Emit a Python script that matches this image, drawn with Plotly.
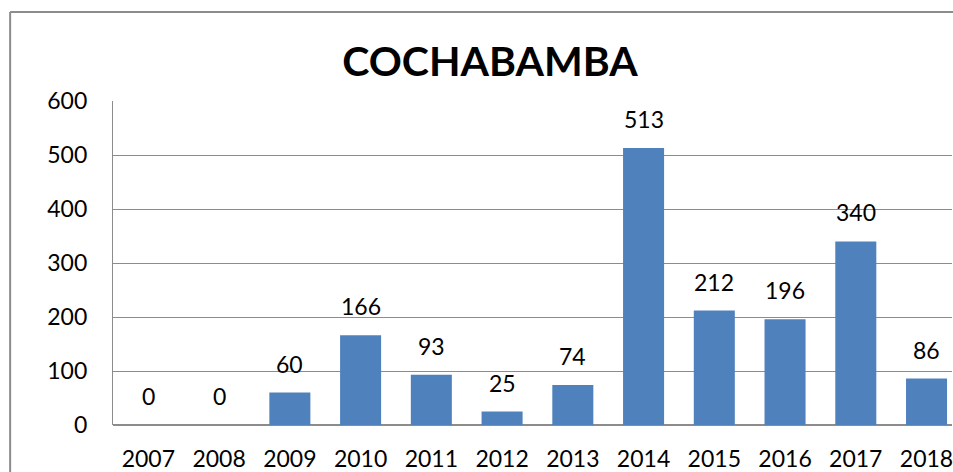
import plotly.graph_objects as go

# data
years = ["2007", "2008", "2009", "2010", "2011", "2012",
         "2013", "2014", "2015", "2016", "2017", "2018"]
values = [0, 0, 60, 166, 93, 25, 74, 513, 212, 196, 340, 86]
y_ticks = [0, 100, 200, 300, 400, 500, 600]

FONT = "Lato, 'Open Sans', sans-serif"
GRID = "#8c8c8c"

fig = go.Figure(go.Bar(x=years, y=values, marker_color="#4F81BD",
                       marker_line=dict(color="#4F81BD", width=0)))

# value labels above the bars (x given as category index)
for i, v in enumerate(values):
    fig.add_annotation(x=i, y=v, text=str(v), showarrow=False,
                       yanchor="bottom", yshift=13,
                       font=dict(size=23, color="black", family=FONT))

# outer chart frame (right and bottom edges cropped out of view)
fig.add_shape(type="line", xref="paper", yref="paper",
              x0=-0.1226, x1=1.2, y0=1.275, y1=1.275,
              line=dict(color=GRID, width=2))
fig.add_shape(type="line", xref="paper", yref="paper",
              x0=-0.1226, x1=-0.1226, y0=-0.3, y1=1.275,
              line=dict(color=GRID, width=2))

fig.update_layout(
    width=953, height=472,
    margin=dict(l=113, r=0, t=101, b=44),
    paper_bgcolor="white", plot_bgcolor="white",
    bargap=0.42, showlegend=False,
    title=dict(text="<b>COCHABAMBA</b>", x=490 / 953, xanchor="center",
               y=1 - 62 / 472, yanchor="middle",
               font=dict(size=41, color="black", family=FONT)),
    font=dict(family=FONT, size=23, color="black"),
)
fig.update_xaxes(type="category", range=[-0.5, 11.36], showgrid=False,
                 ticks="", showline=False, tickfont=dict(size=23),
                 ticklabelstandoff=18)
fig.update_yaxes(range=[0, 600], tickvals=y_ticks, showgrid=True,
                 gridcolor=GRID, gridwidth=1.3, showline=True,
                 linecolor=GRID, linewidth=1.3, zeroline=True,
                 zerolinecolor=GRID, zerolinewidth=1.5, ticks="",
                 tickfont=dict(size=23), ticklabelstandoff=20)

# drop the default page margin so the figure sits at the window corner
fig.write_html("out.html", config={"displayModeBar": False},
               post_script="document.body.style.margin='0';"
                           "document.body.style.overflow='hidden';")
